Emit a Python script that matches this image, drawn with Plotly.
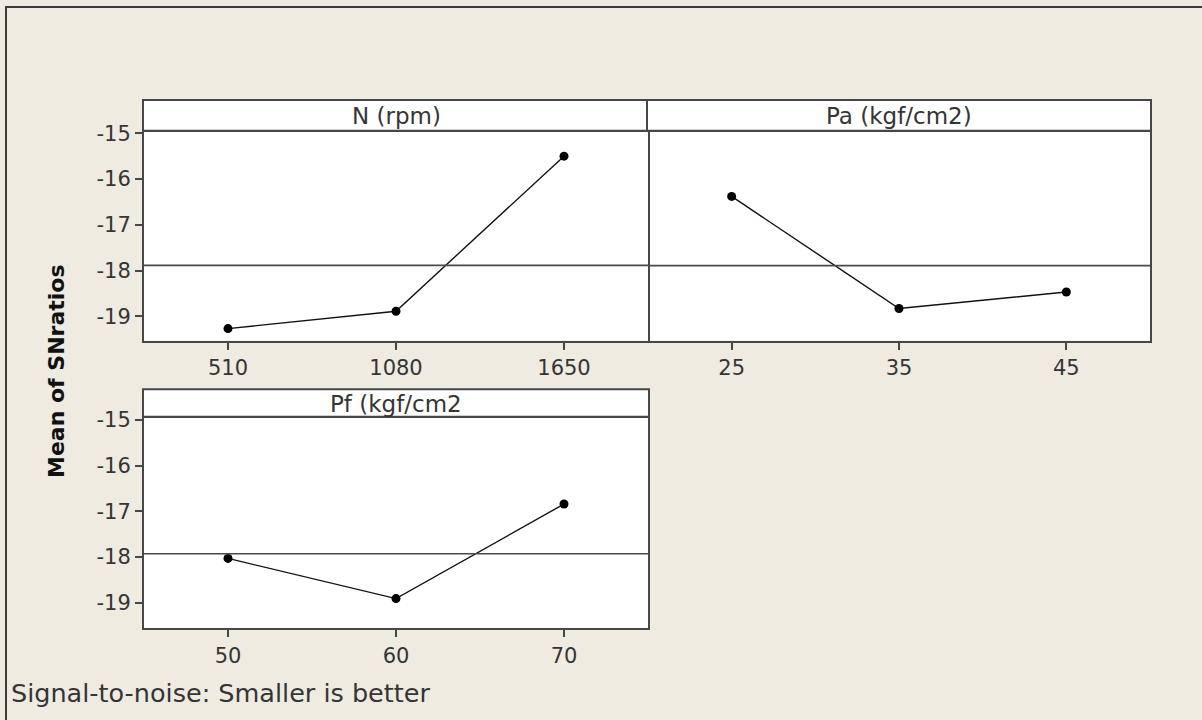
import plotly.graph_objects as go

# Main effects for S/N ratios (smaller is better)
factor_names = ["N (rpm)", "Pa (kgf/cm2)", "Pf (kgf/cm2"]
n_levels = ["510", "1080", "1650"]
n_sn = [-19.27, -18.89, -15.50]
pa_levels = ["25", "35", "45"]
pa_sn = [-16.38, -18.83, -18.47]
pf_levels = ["50", "60", "70"]
pf_sn = [-18.03, -18.91, -16.84]
y_ticks = [-15, -16, -17, -18, -19]
y_tick_text = ["-15", "-16", "-17", "-18", "-19"]

W, H = 1202, 720
BG = "#EFEBE1"
EDGE = "#474747"
TXT = "#353535"
FONT = "DejaVu Sans"


def px_x(p):
    return p / W


def px_y(p):
    return 1 - p / H


# panel boxes in pixels: (left, right, header_top, header_bottom, plot_bottom)
panels = [
    (144, 648, 100, 131.7, 340.5),
    (648, 1150, 100, 131.7, 340.5),
    (144, 648, 389.3, 417.7, 628.3),
]
y_ranges = [[-19.53, -14.965], [-19.53, -14.965], [-19.56, -14.95]]
series = [(n_levels, n_sn), (pa_levels, pa_sn), (pf_levels, pf_sn)]

fig = go.Figure()
shapes = []
annotations = []

for i, ((levels, vals), (l, r, ht, hb, pb)) in enumerate(zip(series, panels)):
    k = "" if i == 0 else str(i + 1)
    xa, ya = "x" + k, "y" + k
    fig.add_trace(go.Scatter(
        x=levels, y=vals, xaxis=xa, yaxis=ya, mode="lines+markers",
        line=dict(color="#111111", width=1.4),
        marker=dict(symbol="circle", size=9, color="#000000"),
        showlegend=False, hoverinfo="x+y",
    ))
    left_col = i != 1
    fig.update_layout(**{
        "xaxis" + k: dict(
            domain=[px_x(l), px_x(r)], anchor=ya, type="category",
            categoryorder="array", categoryarray=levels,
            range=[-0.5, 2.5], showgrid=False, zeroline=False,
            showline=True, mirror=True, linecolor=EDGE, linewidth=2,
            ticks="outside", ticklen=7, tickwidth=1.5, tickcolor=EDGE,
            tickfont=dict(family=FONT, size=21, color=TXT),
            automargin=False, fixedrange=True,
        ),
        "yaxis" + k: dict(
            domain=[px_y(pb), px_y(hb)], anchor=xa,
            range=y_ranges[i], tickvals=y_ticks, ticktext=y_tick_text,
            showgrid=False, zeroline=False,
            showline=True, linecolor=EDGE, linewidth=2,
            mirror=True if left_col else False,
            side="left" if left_col else "right",
            ticks="outside" if left_col else "", ticklen=7, tickwidth=1.5,
            tickcolor=EDGE, showticklabels=left_col,
            tickfont=dict(family=FONT, size=21, color=TXT),
            automargin=False, fixedrange=True,
        ),
    })
    # overall mean reference line
    mean_val = sum(vals) / len(vals)
    shapes.append(dict(
        type="line", xref=xa + " domain", yref=ya, x0=0, x1=1,
        y0=mean_val, y1=mean_val, line=dict(color="#4a4a4a", width=1.6),
    ))
    # factor header strip
    shapes.append(dict(
        type="rect", xref="paper", yref="paper",
        x0=px_x(l - 1), x1=px_x(r + 1), y0=px_y(hb - 1), y1=px_y(ht),
        fillcolor="white", line=dict(color=EDGE, width=2), layer="below",
    ))
    annotations.append(dict(
        text=factor_names[i], xref="paper", yref="paper",
        x=px_x((l + r) / 2), y=px_y((ht + hb) / 2),
        xanchor="center", yanchor="middle", showarrow=False,
        font=dict(family=FONT, size=23, color=TXT),
    ))

# outer frame (top and left edges visible)
shapes.append(dict(
    type="rect", xref="paper", yref="paper",
    x0=px_x(6), x1=px_x(1260), y0=px_y(780), y1=px_y(7),
    line=dict(color="#3c3c3c", width=2), fillcolor="rgba(0,0,0,0)",
    layer="below",
))

annotations.append(dict(
    text="<b>Mean of SNratios</b>", xref="paper", yref="paper",
    x=px_x(57), y=px_y(371), textangle=-90,
    xanchor="center", yanchor="middle", showarrow=False,
    font=dict(family=FONT, size=22, color="#111111"),
))
annotations.append(dict(
    text="Signal-to-noise: Smaller is better", xref="paper", yref="paper",
    x=px_x(9), y=px_y(693), xanchor="left", yanchor="middle",
    showarrow=False, font=dict(family=FONT, size=25.5, color=TXT),
))

fig.update_layout(
    width=W, height=H,
    margin=dict(l=0, r=0, t=0, b=0, autoexpand=False),
    paper_bgcolor=BG, plot_bgcolor="white",
    shapes=shapes, annotations=annotations,
)

fig.write_html("out.html", config={"displayModeBar": False})
